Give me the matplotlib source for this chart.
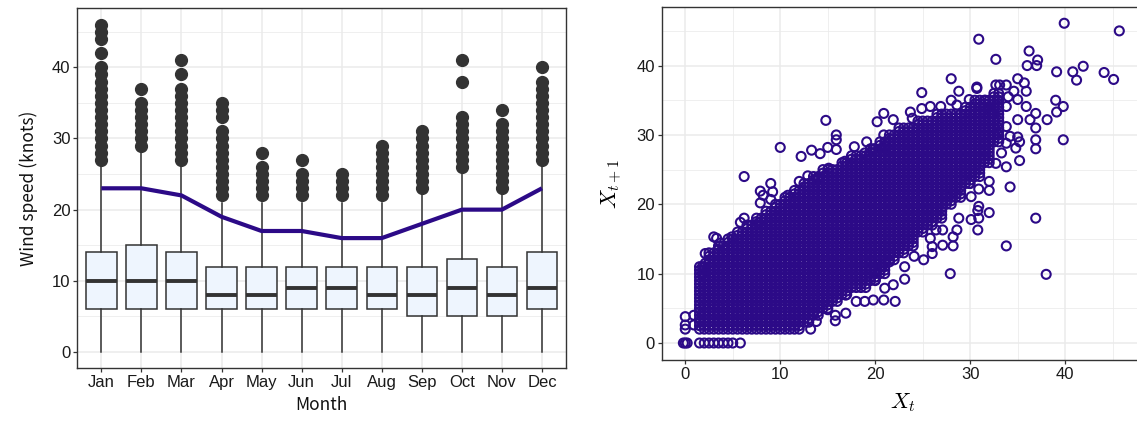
# Monthly wind speed boxplots and lag-1 scatter
import numpy as np
import matplotlib
matplotlib.use("Agg")
import matplotlib.pyplot as plt
from matplotlib.ticker import MultipleLocator

plt.rcParams["mathtext.fontset"] = "cm"

# Left panel: monthly box summaries (knots)
months = ["Jan", "Feb", "Mar", "Apr", "May", "Jun", "Jul", "Aug", "Sep", "Oct", "Nov", "Dec"]
whisker_lo = [0, 0, 0, 0, 0, 0, 0, 0, 0, 0, 0, 0]
q1 = [6, 6, 6, 6, 6, 6, 6, 6, 5, 5, 5, 6]
median = [10, 10, 10, 8, 8, 9, 9, 8, 8, 9, 8, 9]
q3 = [14, 15, 14, 12, 12, 12, 12, 12, 12, 13, 12, 14]
whisker_hi = [26, 28, 26, 21, 21, 21, 21, 21, 22, 25, 22, 26]
outliers = [
    list(range(27, 41)) + [42, 44, 45, 46],
    list(range(29, 36)) + [37],
    list(range(27, 38)) + [39, 41],
    list(range(22, 32)) + [33, 34, 35],
    list(range(22, 27)) + [28],
    list(range(22, 26)) + [27],
    list(range(22, 26)),
    list(range(22, 30)),
    list(range(23, 32)),
    list(range(26, 34)) + [38, 41],
    list(range(23, 33)) + [34],
    list(range(27, 39)) + [40],
]
threshold = [23, 23, 22, 19, 17, 17, 16, 16, 18, 20, 20, 23]

# Right panel: dense band of (X_t, X_t+1) pairs, per X_t column (0.5 knot resolution)
core_x = list(range(2, 34))
core_lo = [2, 2, 2, 2, 2, 2, 2, 2, 2, 2, 2, 3, 4, 5, 6, 7, 8, 8, 9, 10, 12, 13,
           14, 16, 17, 18, 20, 21, 23, 24, 26, 29]
core_hi = [11, 13, 14, 15, 16, 17, 18, 19, 20, 21, 22, 23, 24, 25, 25, 26, 27, 27,
           28, 29, 30, 31, 31, 32, 32, 33, 33, 33, 34, 35, 35, 36]
resolution = 0.5

# isolated points
extra_x = [-0.2, 0.0, 0.2, 0.0, 0.0, 0.0, 0.9, 0.9, 1.5, 2.0, 2.5, 3.0, 3.5, 4.0, 4.5, 5.0, 5.8,
           14.8, 10.0, 6.2, 12.2, 13.3, 14.2, 15.0, 15.9, 15.9, 15.9, 17.8, 19.1, 19.8, 20.2, 20.9,
           20.9, 24.9, 28.0, 30.9, 32.7, 28.8, 29.9, 30.7, 36.0, 36.2, 37.0, 37.1, 39.1, 39.9,
           40.8, 41.2, 41.9, 44.1, 45.1, 45.7, 39.0, 39.8, 39.1, 39.8, 38.1, 36.9, 36.9, 36.9,
           36.9, 35.2, 33.8, 34.8, 35.2, 33.8, 38.0, 27.9, 32.0, 30.8, 30.8, 30.9, 30.1, 30.1,
           28.2, 27.1, 26.0, 26.0, 25.1, 24.1, 23.1, 22.1, 20.9, 19.8, 18.9, 18.0, 16.9, 16.9,
           15.8, 15.8, 15.0, 13.8, 13.2, 21.0, 20.7, 21.5, 23.1, 21.9, 20.0, 26.4, 28.6, 28.8,
           27.1, 28.2, 25.8, 34.2, 32.0, 32.0, 29.9, 28.2, 30.9, 30.9,
           7.9, 9.0, 7.9, 8.2, 9.2, 9.0, 6.2, 5.8, 4.9, 3.0, 3.3, 2.1, 3.7, 1.8, 1.8, 2.1, 7.7,
           10.8, 12.0, 12.9, 14.0, 15.1, 16.8, 18.9, 21.1, 21.9, 23.7, 23.9, 24.9, 25.8, 26.9,
           28.0, 28.6, 30.7, 32.7, 33.1, 33.8, 35.0, 35.7, 35.9, 35.0, 35.9, 36.9, 36.3, 35.0,
           33.8, 34.2, 35.0, 33.8, 33.3, 32.7, 32.9, 32.3, 31.6, 32.0, 34.0, 33.8, 32.9, 34.6]
extra_y = [0.0, 0.0, 0.0, 2.0, 2.6, 3.8, 4.0, 2.6, 0.0, 0.0, 0.0, 0.0, 0.0, 0.0, 0.0, 0.0, 0.0,
           32.1, 28.2, 24.0, 26.9, 27.8, 27.3, 28.2, 30.0, 29.3, 27.9, 28.3, 29.0, 28.0, 31.9, 33.1,
           30.0, 36.1, 38.1, 43.8, 40.9, 36.3, 35.1, 36.9, 40.0, 42.1, 40.0, 40.8, 39.1, 46.1,
           39.1, 37.9, 39.9, 39.0, 38.0, 45.0, 35.0, 34.1, 33.3, 29.3, 32.2, 31.0, 29.3, 28.0,
           18.0, 26.3, 25.4, 28.1, 29.0, 14.0, 9.9, 10.0, 18.8, 16.3, 19.1, 18.0, 17.8, 21.1,
           14.0, 14.1, 12.9, 13.9, 12.0, 12.5, 9.2, 6.0, 6.2, 6.2, 6.0, 6.0, 6.9, 4.3,
           4.0, 3.2, 4.8, 3.1, 2.0, 7.9, 11.0, 11.7, 11.0, 8.4, 9.1, 16.3, 16.3, 18.0,
           16.3, 15.3, 15.1, 22.5, 22.0, 23.3, 23.0, 21.8, 22.2, 19.7,
           21.9, 23.0, 20.2, 21.3, 21.8, 20.7, 18.0, 17.4, 15.3, 15.3, 15.1, 12.9, 14.4, 11.0, 10.0, 11.5, 17.3,
           21.3, 23.3, 24.1, 23.8, 25.2, 26.2, 27.4, 28.3, 32.2, 33.3, 32.4, 33.8, 34.1, 34.1,
           35.0, 34.3, 36.7, 37.2, 37.2, 37.2, 38.1, 37.5, 36.3, 35.1, 34.1, 33.1, 32.2, 32.2,
           31.2, 29.8, 29.7, 28.8, 27.4, 25.9, 30.2, 33.1, 35.0, 33.6, 35.5, 34.1, 35.0, 36.3]

purple = "#2c0a87"
dark = "#333333"
grid_col = "#EBEBEB"
tick_font = "Liberation Sans"
title_font = ["Noto Sans CJK JP", "DejaVu Sans"]

fig = plt.figure(figsize=(11.37, 4.25), dpi=100)


def style_axes(ax):
    ax.set_facecolor("white")
    for s in ax.spines.values():
        s.set_color(dark)
        s.set_linewidth(1.0)
    ax.tick_params(axis="both", which="major", length=3, width=0.9, color=dark,
                   labelsize=12, labelcolor="#1a1a1a", pad=2)
    ax.tick_params(axis="both", which="minor", length=0)
    for lab in ax.get_xticklabels() + ax.get_yticklabels():
        lab.set_fontfamily(tick_font)
    ax.grid(True, which="major", color=grid_col, linewidth=1.1, zorder=0)
    ax.grid(True, which="minor", color=grid_col, linewidth=0.55, zorder=0)
    ax.set_axisbelow(True)


# ---- left panel ----
ax1 = fig.add_axes([77.3 / 1137, 56.7 / 425, 488.7 / 1137, 360 / 425])
stats = []
for i in range(len(months)):
    stats.append({"whislo": whisker_lo[i], "q1": q1[i], "med": median[i], "q3": q3[i],
                  "whishi": whisker_hi[i], "fliers": outliers[i], "label": months[i]})
pos = np.arange(1, len(months) + 1)
ax1.bxp(stats, positions=pos, widths=0.76, patch_artist=True, showcaps=False,
        boxprops=dict(facecolor="#EEF5FE", edgecolor=dark, linewidth=1.1),
        whiskerprops=dict(color=dark, linewidth=1.1),
        medianprops=dict(color=dark, linewidth=2.8, solid_capstyle="butt"),
        flierprops=dict(marker="o", markerfacecolor=dark, markeredgecolor=dark,
                        markersize=8.5, linestyle="none"),
        zorder=2)
ax1.plot(pos, threshold, color=purple, linewidth=3, zorder=4, solid_capstyle="butt")
ax1.set_xlim(0.4, 12.6)
ax1.set_ylim(-2.3, 48.3)
ax1.set_xticks(pos)
ax1.set_xticklabels(months)
ax1.yaxis.set_major_locator(MultipleLocator(10))
ax1.yaxis.set_minor_locator(MultipleLocator(5))
style_axes(ax1)
ax1.set_xlabel("Month", fontsize=12.5, family=title_font, labelpad=4, color="#111111")
ax1.set_ylabel("Wind speed (knots)", fontsize=12.5, family=title_font, labelpad=10, color="#111111")

# ---- right panel ----
ax2 = fig.add_axes([662 / 1137, 65 / 425, 482 / 1137, 352.7 / 425])
xs, ys = [], []
for x, lo, hi in zip(core_x, core_lo, core_hi):
    for xx in (x - resolution, x):
        for yy in np.arange(lo, hi + resolution / 2, resolution):
            xs.append(xx)
            ys.append(yy)
xs = np.array(xs + extra_x)
ys = np.array(ys + extra_y)
ax2.scatter(xs, ys, s=42, facecolors="none", edgecolors=purple, linewidths=1.5, zorder=3)
ax2.set_xlim(-2.45, 48.3)
ax2.set_ylim(-2.45, 48.4)
for a in (ax2.xaxis, ax2.yaxis):
    a.set_major_locator(MultipleLocator(10))
    a.set_minor_locator(MultipleLocator(5))
style_axes(ax2)
ax2.set_xlabel(r"$X_t$", fontsize=16, labelpad=7, math_fontfamily="cm")
ax2.set_ylabel(r"$X_{t+1}$", fontsize=16, labelpad=8, math_fontfamily="cm")

fig.savefig("out.png", dpi=100)
